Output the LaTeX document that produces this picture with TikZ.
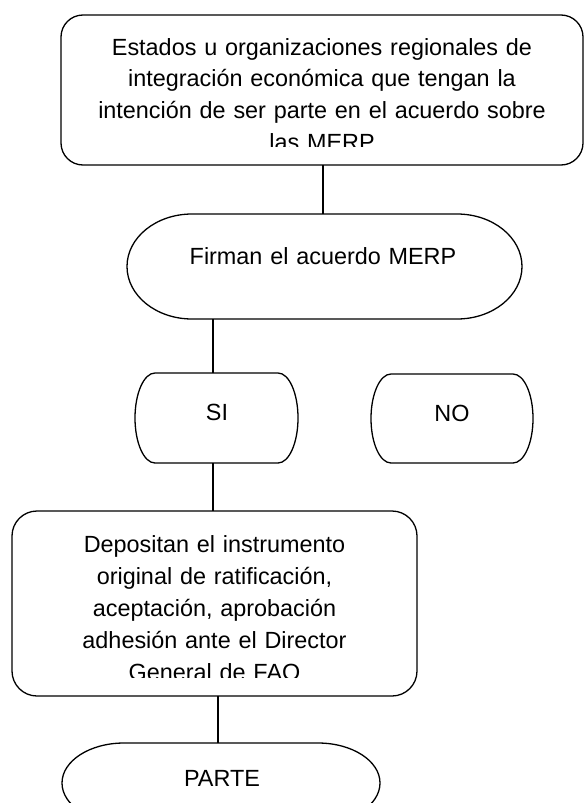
\documentclass[tikz,border=0pt]{standalone}
\usepackage{fontspec}
\setmainfont{Liberation Sans}
\usetikzlibrary{calc}
\tikzset{
  outline/.style={draw=black, line width=1.3pt},
  frame/.style={draw=none, inner sep=0pt, outer sep=0pt},
  roundbox/.style={outline, rounded corners=#1},
  lbl/.style={inner sep=0pt, outer sep=0pt, align=center, text width=520pt, anchor=base,
    font=\fontsize{23.4}{31.7}\selectfont},
  lbltwo/.style={lbl, font=\fontsize{23.4}{32}\selectfont},
  link/.style={draw=black, line width=1.3pt},
}
\newcommand\stadiumpath[2]{%
  \draw[outline] let \p1=(#1.north west), \p2=(#1.south east), \n1={(\y1-\y2)/2} in
    (\x2-#2pt,\y1) arc[start angle=90,end angle=-90,x radius=#2pt,y radius=\n1]
    -- (\x1+#2pt,\y2) arc[start angle=270,end angle=90,x radius=#2pt,y radius=\n1]
    -- cycle;}
\begin{document}
\begin{tikzpicture}[x=1pt,y=-1pt]
\clip (0,0) rectangle (584,803);
\fill[white] (0,0) rectangle (584,803);
% shape frames
\node[frame, minimum width=522pt, minimum height=150pt] (top) at (322,90) {};
\node[frame, minimum width=395pt, minimum height=105pt] (firman) at (324.5,266.5) {};
\node[frame, minimum width=163pt, minimum height=90pt] (si) at (216.5,418) {};
\node[frame, minimum width=162pt, minimum height=89pt] (no) at (452,418.5) {};
\node[frame, minimum width=405pt, minimum height=185pt] (dep) at (214.5,603.5) {};
\node[frame, minimum width=318pt, minimum height=80pt] (parte) at (221,783) {};
% outlines
\draw[roundbox=22pt] (top.north west) rectangle (top.south east);
\draw[roundbox=25pt] (dep.north west) rectangle (dep.south east);
\stadiumpath{firman}{65}
\stadiumpath{si}{20}
\stadiumpath{no}{20}
\stadiumpath{parte}{62}
% texts
\begin{scope}
\clip (61,15) rectangle (583,146);
\node[lbl] (toptxt) at (322,55) {Estados u organizaciones regionales de\\integración económica que tengan la\\intención de ser parte en el acuerdo sobre\\las MERP};
\end{scope}
\node[lbl] (firmantxt) at (323,264) {Firman el acuerdo MERP};
\node[lbl] (sitxt) at (217,420) {SI};
\node[lbl] (notxt) at (452,421) {NO};
\begin{scope}
\clip (12,511) rectangle (417,677);
\node[lbltwo] (deptxt) at (214.5,552) {Depositan el instrumento\\original de ratificación,\\aceptación, aprobación\\adhesión ante el Director\\General de FAO};
\end{scope}
\node[lbl] (partetxt) at (222,786) {PARTE};
% connectors
\draw[link] ([xshift=1pt]top.south) -- ([xshift=1pt]top.south |- firman.north);
\draw[link] ([xshift=-3.5pt]si.north |- firman.south) -- ([xshift=-3.5pt]si.north);
\draw[link] ([xshift=-3.5pt]si.south) -- ([xshift=-3.5pt]si.south |- dep.north);
\draw[link] ([xshift=3.5pt]dep.south) -- ([xshift=3.5pt]dep.south |- parte.north);
\end{tikzpicture}
\end{document}
